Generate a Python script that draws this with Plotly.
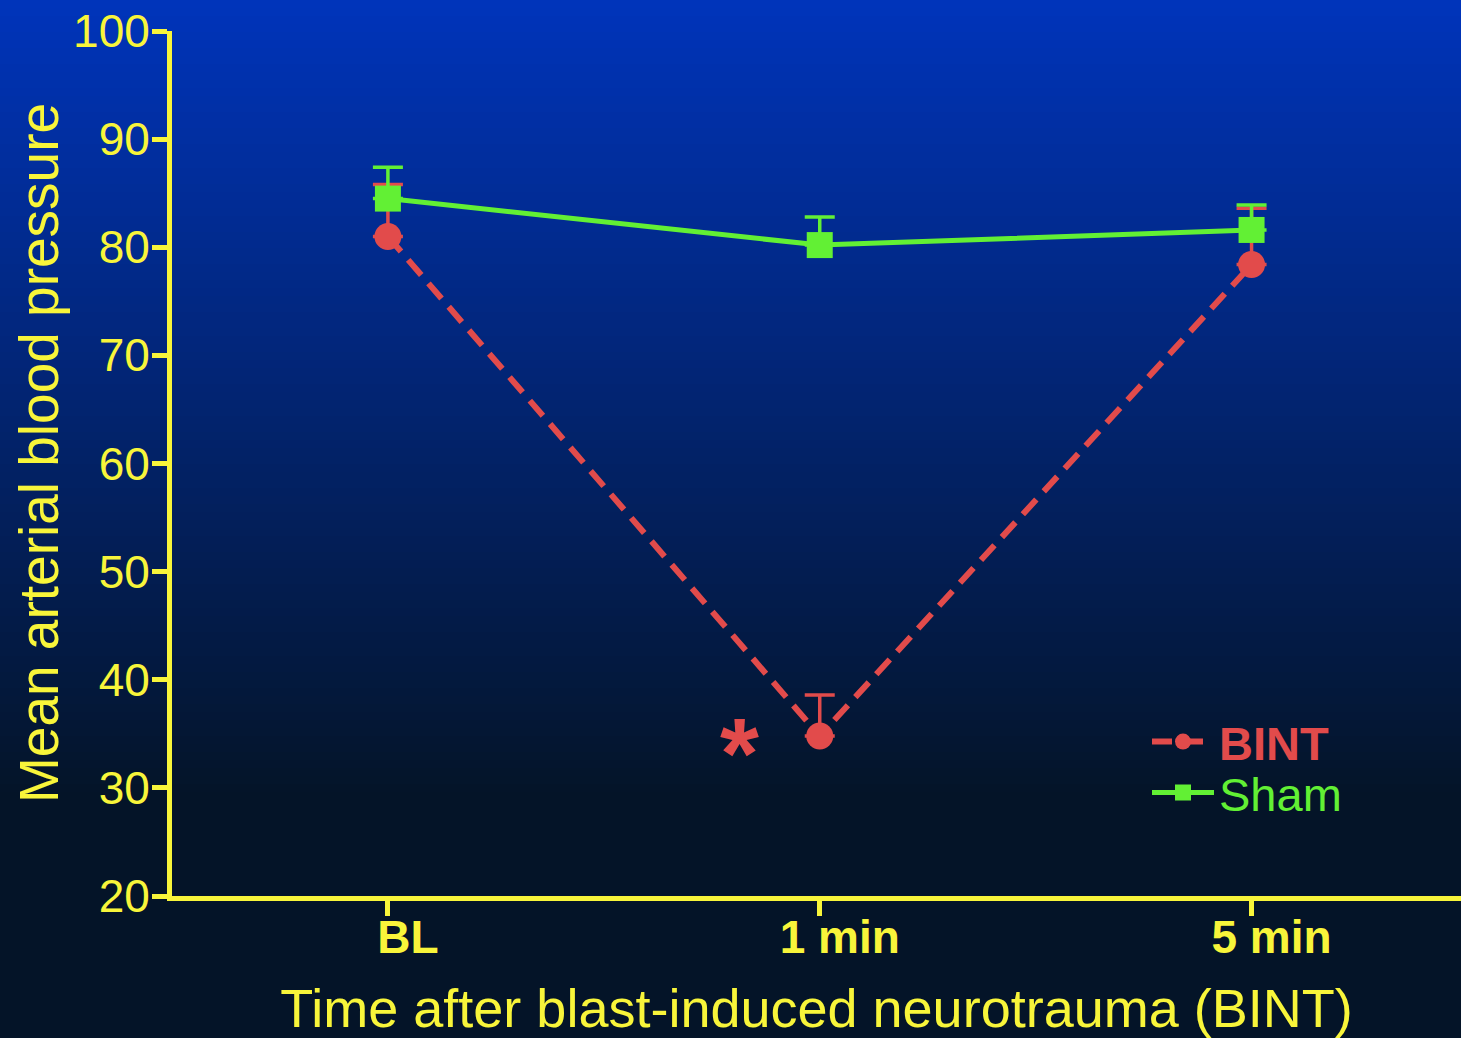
import plotly.graph_objects as go

# ---- data ----
categories = ["BL", "1 min", "5 min"]
bint_values = [81.0, 34.8, 78.4]
bint_err_up = [4.8, 3.8, 5.2]
sham_values = [84.5, 80.2, 81.6]
sham_err_up = [2.9, 2.6, 2.3]
y_ticks = [20, 30, 40, 50, 60, 70, 80, 90, 100]

YELLOW = "#F8F53A"
RED = "#E24B4B"
GREEN = "#62F034"
FONT = "Liberation Sans, Arial, sans-serif"

W, H = 1461, 1038
L, R, T, B = 172, 0, 31, 142
plot_w = W - L - R
plot_h = H - T - B

def px_to_paper_y(py):
    return (H - B - py) / plot_h

def px_to_paper_x(px):
    return (px - L) / plot_w

fig = go.Figure()

fig.add_trace(go.Scatter(
    x=categories, y=bint_values, mode="lines+markers",
    name=f'<span style="color:{RED}"><b>BINT</b></span>',
    legend="legend",
    line=dict(color=RED, width=6, dash="20px,11px"),
    marker=dict(symbol="circle", size=27, color=RED),
    error_y=dict(type="data", symmetric=False, array=bint_err_up,
                 arrayminus=[0, 0, 0], color=RED, thickness=3.5, width=15),
))
fig.add_trace(go.Scatter(
    x=categories, y=sham_values, mode="lines+markers",
    name=f'<span style="color:{GREEN}">Sham</span>',
    legend="legend2",
    line=dict(color=GREEN, width=5),
    marker=dict(symbol="square", size=26, color=GREEN),
    error_y=dict(type="data", symmetric=False, array=sham_err_up,
                 arrayminus=[0, 0, 0], color=GREEN, thickness=3.5, width=15),
))

# gradient background (style only)
x0p = -L / plot_w
top_c = (0, 52, 186)
bot_c = (4, 20, 40)
grad_end = 800
n = 100
shapes = []
for i in range(n):
    f = i / (n - 1)
    c = tuple(round(top_c[k] + (bot_c[k] - top_c[k]) * f) for k in range(3))
    y_top = grad_end * i / n
    y_bot = grad_end * (i + 1) / n + 1
    shapes.append(dict(type="rect", xref="paper", yref="paper", layer="below",
                       x0=x0p, x1=1.01, y0=px_to_paper_y(y_bot), y1=px_to_paper_y(y_top),
                       line=dict(width=0), fillcolor="rgb(%d,%d,%d)" % c))

legend_common = dict(xanchor="left", yanchor="middle", bgcolor="rgba(0,0,0,0)",
                     font=dict(size=47, family=FONT), itemwidth=62)

fig.update_layout(
    width=W, height=H,
    margin=dict(l=L, r=R, t=T, b=B, pad=0),
    paper_bgcolor="rgb(4,20,40)",
    plot_bgcolor="rgba(0,0,0,0)",
    shapes=shapes,
    font=dict(family=FONT, color=YELLOW),
    showlegend=True,
    legend=dict(x=px_to_paper_x(1147), y=px_to_paper_y(742), **legend_common),
    legend2=dict(x=px_to_paper_x(1147), y=px_to_paper_y(793), **legend_common),
    xaxis=dict(
        range=[-0.5, 2.485], showgrid=False, zeroline=False,
        showline=True, linecolor=YELLOW, linewidth=5,
        ticks="outside", ticklen=15, tickwidth=5, tickcolor=YELLOW,
        tickfont=dict(size=46, family=FONT, color=YELLOW, weight="bold"),
        ticklabelshift=20, ticklabelstandoff=-18,
        title=dict(text="Time after blast-induced neurotrauma (BINT)",
                   font=dict(size=54, family=FONT, color=YELLOW), standoff=35),
    ),
    yaxis=dict(
        range=[20, 100], tickvals=y_ticks, showgrid=False, zeroline=False,
        showline=True, linecolor=YELLOW, linewidth=5,
        ticks="outside", ticklen=15, tickwidth=5, tickcolor=YELLOW,
        tickfont=dict(size=46, family=FONT, color=YELLOW),
        ticklabelstandoff=-7,
    ),
)

# y-axis title
fig.add_annotation(x=px_to_paper_x(39), y=px_to_paper_y(453), xref="paper", yref="paper",
                   text="Mean arterial blood pressure", textangle=-90, showarrow=False,
                   xanchor="center", yanchor="middle",
                   font=dict(size=55, family=FONT, color=YELLOW))

fig.add_annotation(x=0.815, y=34.3, xref="x", yref="y", text="*", showarrow=False,
                   font=dict(size=100, color=RED, family=FONT, weight="bold"),
                   yanchor="middle", yshift=-12)

fig.write_html("out.html", config={"displayModeBar": False},
               post_script="document.body.style.margin='0px';")
